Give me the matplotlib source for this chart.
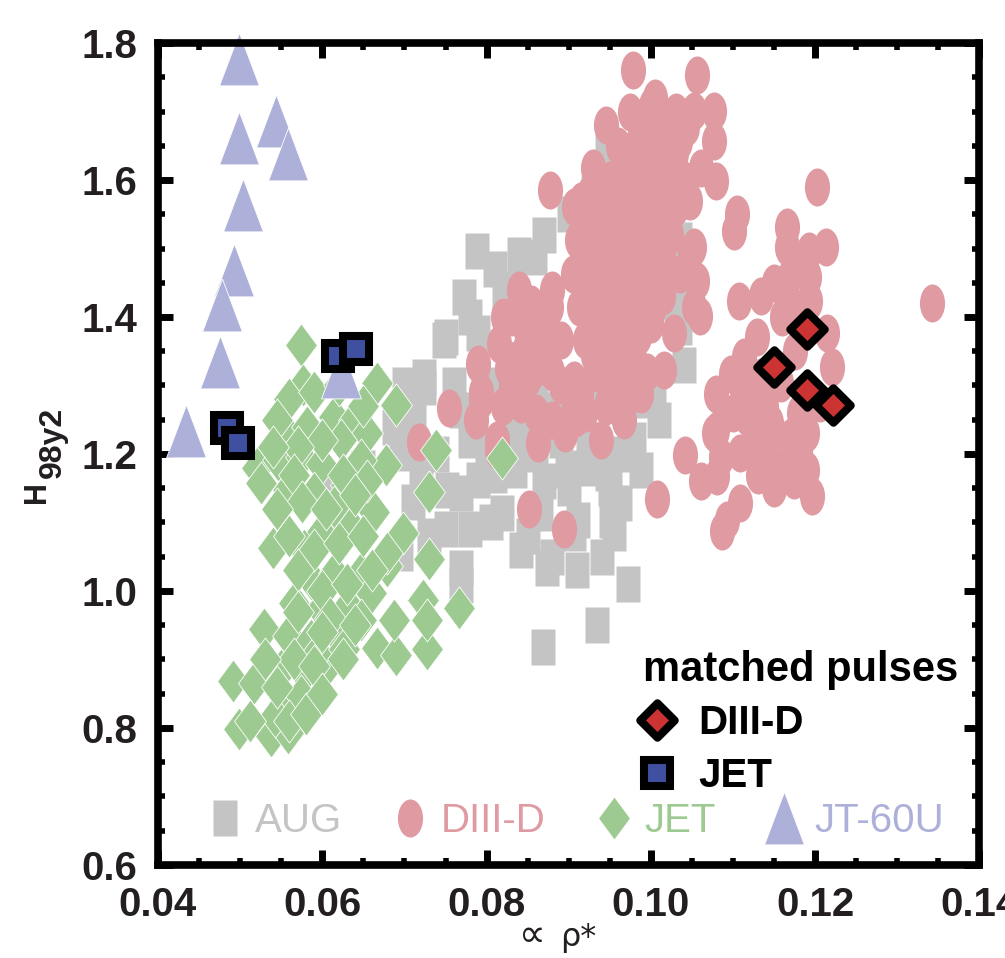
import numpy as np
import matplotlib
matplotlib.use("Agg")
import matplotlib.pyplot as plt
from matplotlib.path import Path
from matplotlib.transforms import Affine2D
from matplotlib.ticker import FixedLocator, FixedFormatter, MultipleLocator

plt.rcParams['font.family'] = ['Liberation Sans', 'DejaVu Sans']

# ---------------- data ----------------
aug_x = [0.0788, 0.0859, 0.0773, 0.0829, 0.0750, 0.0789, 0.0724, 0.0947, 0.0988, 0.0951,
         0.0911, 0.0842, 0.0873, 0.0972, 0.0935, 0.0869, 0.0769, 0.0819, 0.0752, 0.0789,
         0.0866, 0.0898, 0.0963, 0.0882, 0.1004, 0.1036, 0.0712, 0.0696, 0.0696, 0.0769,
         0.0829, 0.0834, 0.0923, 0.0748, 0.0724, 0.0769, 0.0687, 0.0614, 0.1036, 0.0821,
         0.0988, 0.0947, 0.0805, 0.0907, 0.0955, 0.0769, 0.0740, 0.0800, 0.0860, 0.0900,
         0.0800, 0.0860, 0.0940, 0.0990, 0.0930, 0.0730, 0.0650, 0.0700, 0.0710,
         0.0760, 0.0780, 0.0810, 0.0840, 0.0870, 0.0890, 0.0920, 0.0950, 0.0980, 0.0960,
         0.0850, 0.0880, 0.0910, 0.0940, 0.0780, 0.0750, 0.0720, 0.0780, 0.0810, 0.0840,
         0.0870, 0.0900, 0.0930, 0.0960, 0.0990, 0.1010, 0.1030, 0.1040, 0.1010, 0.1036]
aug_y = [1.497, 1.487, 1.429, 1.439, 1.371, 1.376, 1.313, 1.643, 1.177, 1.104,
         1.104, 1.060, 1.034, 1.010, 0.950, 0.918, 1.034, 1.114, 1.148, 1.162,
         1.114, 1.177, 1.129, 1.264, 1.293, 1.385, 1.250, 1.201, 1.055, 1.264,
         1.259, 1.177, 1.220, 1.366, 1.298, 1.143, 1.240, 1.152, 1.512, 1.434,
         1.279, 1.172, 1.100, 1.085, 1.085, 1.009, 1.200, 1.210, 1.200, 1.150,
         1.300, 1.310, 1.400, 1.450, 1.300, 1.080, 1.180, 1.300, 1.130,
         1.300, 1.220, 1.170, 1.220, 1.160, 1.220, 1.180, 1.150, 1.220, 1.200,
         1.080, 1.050, 1.030, 1.050, 1.090, 1.090, 1.180, 1.400, 1.470, 1.490,
         1.520, 1.550, 1.580, 1.620, 1.610, 1.470, 1.420, 1.330, 1.250, 1.440]

d3d_x = [0.0978, 0.1056, 0.1000, 0.1022, 0.1052, 0.1077, 0.1077, 0.1079, 0.0877, 0.0929,
         0.0969, 0.0996, 0.1036, 0.1032, 0.1048, 0.1105, 0.1101, 0.1166, 0.1052, 0.1036,
         0.1056, 0.1060, 0.1107, 0.1134, 0.1028, 0.1016, 0.0915, 0.0911, 0.0907, 0.0854,
         0.0878, 0.0848, 0.0825, 0.0793, 0.0842, 0.0858, 0.0890, 0.0915, 0.0909, 0.0939,
         0.0967, 0.0988, 0.0862, 0.0813, 0.0852, 0.0894, 0.1007, 0.1042, 0.1061, 0.1081,
         0.1109, 0.1087, 0.1079, 0.1097, 0.1129, 0.1109, 0.1077, 0.1012, 0.1044, 0.1020,
         0.1061, 0.0718, 0.0754, 0.0789, 0.0793, 0.0787, 0.0813, 0.0827, 0.0843, 0.0906,
         0.0906, 0.0963, 0.1048, 0.1052, 0.1202, 0.1342, 0.1166, 0.1192, 0.1213, 0.1170,
         0.1192, 0.1170, 0.1194, 0.1214, 0.1220, 0.1206, 0.1113, 0.1109, 0.1134, 0.1158,
         0.1117, 0.1146, 0.1170, 0.1081, 0.1142, 0.1182, 0.1190, 0.1174, 0.1196, 0.1085,
         0.1093,
         0.0906, 0.0931, 0.0955, 0.0979, 0.1004, 0.0910, 0.0935, 0.0955, 0.0980, 0.1000,
         0.0905, 0.0930, 0.0955, 0.0978, 0.1005, 0.0912, 0.0935, 0.0958, 0.0982, 0.1003,
         0.0920, 0.0940, 0.0960, 0.0985, 0.0935, 0.0955, 0.0975, 0.0970, 0.0995, 0.1010,
         0.1030, 0.1025, 0.1020, 0.1015, 0.0960, 0.0990, 0.1005, 0.1030,
         0.0830, 0.0860, 0.0845, 0.0870, 0.0890, 0.0830, 0.0880,
         0.0945, 0.0975, 0.1005, 0.1030, 0.0985, 0.1040, 0.0925, 0.0950, 0.0975, 0.1000,
         0.1025, 0.0920, 0.0945, 0.0970, 0.0995, 0.1015, 0.0920, 0.0945, 0.0968, 0.0992,
         0.1015, 0.0920, 0.0945, 0.0970, 0.0995, 0.1010, 0.0925, 0.0950, 0.0975, 0.1000,
         0.0930, 0.0955, 0.0980, 0.0950, 0.0970, 0.0995,
         0.0820, 0.0840, 0.0880, 0.0870, 0.0815, 0.0850, 0.0880, 0.0820, 0.0860, 0.0895,
         0.0920, 0.0945,
         0.1120, 0.1140, 0.1150, 0.1125, 0.1160, 0.1130, 0.1150, 0.1100, 0.1190, 0.1180,
         0.1175, 0.1160, 0.1150, 0.1180]
d3d_y = [1.760, 1.754, 1.708, 1.691, 1.701, 1.701, 1.657, 1.599, 1.586, 1.618,
         1.628, 1.643, 1.657, 1.609, 1.570, 1.551, 1.526, 1.531, 1.502, 1.463,
         1.453, 1.402, 1.424, 1.431, 1.376, 1.322, 1.570, 1.512, 1.463, 1.419,
         1.414, 1.380, 1.325, 1.279, 1.273, 1.322, 1.366, 1.288, 1.252, 1.220,
         1.250, 1.288, 1.216, 1.206, 1.120, 1.090, 1.135, 1.198, 1.160, 1.168,
         1.129, 1.087, 1.288, 1.317, 1.371, 1.201, 1.230, 1.667, 1.677, 1.618,
         1.618, 1.218, 1.267, 1.332, 1.291, 1.250, 1.220, 1.337, 1.286, 1.308,
         1.269, 1.264, 1.492, 1.415, 1.590, 1.420, 1.502, 1.497, 1.502, 1.463,
         1.458, 1.419, 1.424, 1.376, 1.327, 1.274, 1.342, 1.303, 1.313, 1.303,
         1.254, 1.245, 1.225, 1.235, 1.206, 1.206, 1.177, 1.162, 1.138, 1.196,
         1.104,
         1.560, 1.560, 1.565, 1.555, 1.560, 1.512, 1.510, 1.515, 1.505, 1.515,
         1.463, 1.465, 1.460, 1.470, 1.465, 1.415, 1.420, 1.412, 1.420, 1.410,
         1.366, 1.370, 1.360, 1.372, 1.318, 1.325, 1.315, 1.600, 1.610, 1.590,
         1.560, 1.520, 1.470, 1.430, 1.650, 1.680, 1.640, 1.640,
         1.400, 1.390, 1.350, 1.340, 1.300, 1.300, 1.250,
         1.680, 1.700, 1.720, 1.700, 1.660, 1.600, 1.580, 1.600, 1.580, 1.580,
         1.580, 1.540, 1.535, 1.540, 1.535, 1.545, 1.490, 1.490, 1.490, 1.485,
         1.490, 1.440, 1.440, 1.440, 1.440, 1.450, 1.390, 1.390, 1.395, 1.390,
         1.345, 1.345, 1.340, 1.300, 1.280, 1.320,
         1.400, 1.440, 1.440, 1.380, 1.360, 1.310, 1.320, 1.270, 1.260, 1.230,
         1.260, 1.270,
         1.280, 1.270, 1.230, 1.220, 1.180, 1.170, 1.150, 1.260, 1.230, 1.260,
         1.350, 1.400, 1.450, 1.400]

jet_x = [0.0574, 0.0576, 0.0667, 0.0690, 0.0521, 0.0525, 0.0540, 0.0677, 0.0738, 0.0730,
         0.0698, 0.0663, 0.0629, 0.0730, 0.0722, 0.0767, 0.0667, 0.0690, 0.0728, 0.0529,
         0.0491, 0.0517, 0.0499, 0.0537, 0.0558,
         0.0586, 0.0614, 0.0647, 0.0679, 0.0566, 0.0598, 0.0631, 0.0659, 0.0558, 0.0586,
         0.0619, 0.0647, 0.0550, 0.0578, 0.0606, 0.0554, 0.0574, 0.0542, 0.0594, 0.0627,
         0.0554, 0.0582, 0.0614, 0.0639, 0.0655, 0.0546, 0.0574, 0.0598, 0.0623, 0.0647,
         0.0558, 0.0590, 0.0614, 0.0635, 0.0598, 0.0578,
         0.0819, 0.0679, 0.0687, 0.0728,
         0.0560, 0.0590, 0.0620, 0.0650, 0.0545, 0.0600, 0.0570, 0.0625, 0.0655, 0.0540,
         0.0565, 0.0575, 0.0605, 0.0640, 0.0545, 0.0560, 0.0590, 0.0620, 0.0650, 0.0570,
         0.0600, 0.0630, 0.0660, 0.0570, 0.0610, 0.0640, 0.0600, 0.0565, 0.0590, 0.0625,
         0.0545, 0.0560, 0.0580, 0.0600, 0.0530, 0.0512]
jet_y = [1.359, 1.300, 1.303, 1.271, 1.179, 1.158, 1.063, 1.184, 1.206, 1.145,
         1.085, 1.116, 1.155, 1.046, 0.987, 0.975, 0.917, 0.907, 0.915, 0.944,
         0.868, 0.866, 0.798, 0.788, 0.793,
         1.017, 1.026, 1.026, 1.036, 0.983, 0.973, 0.978, 0.997, 0.934, 0.929,
         0.934, 0.958, 0.885, 0.881, 0.890, 0.837, 0.847, 0.817, 0.910, 0.915,
         1.235, 1.240, 1.254, 1.250, 1.230, 1.191, 1.196, 1.186, 1.220, 1.191,
         1.148, 1.143, 1.123, 1.094, 1.085, 1.060,
         1.194, 1.055, 0.958, 0.958,
         1.280, 1.290, 1.300, 1.270, 1.250, 1.220, 1.210, 1.170, 1.160, 1.210,
         1.170, 1.130, 1.120, 1.140, 1.120, 1.080, 1.060, 1.070, 1.080, 1.030,
         1.000, 1.010, 1.030, 0.970, 0.960, 0.950, 0.940, 0.900, 0.890, 0.900,
         0.860, 0.810, 0.820, 0.850, 0.900, 0.810]

jt_x = [0.0499, 0.0499, 0.0544, 0.0558, 0.0503, 0.0492, 0.0478, 0.0475, 0.0434, 0.0623]
jt_y = [1.777, 1.661, 1.686, 1.638, 1.564, 1.468, 1.417, 1.334, 1.233, 1.319]

match_d3d_x = [0.1190, 0.1150, 0.1190, 0.1222]
match_d3d_y = [1.382, 1.327, 1.294, 1.272]
match_jet_x = [0.0484, 0.0498, 0.0619, 0.0641]
match_jet_y = [1.238, 1.216, 1.343, 1.353]

labels = ['AUG', 'DIII-D', 'JET', 'JT-60U']
match_labels = ['DIII-D', 'JET']
xticks = [0.04, 0.06, 0.08, 0.10, 0.12, 0.14]
xticklabels = ['0.04', '0.06', '0.08', '0.10', '0.12', '0.14']
yticks = [0.6, 0.8, 1.0, 1.2, 1.4, 1.6, 1.8]
yticklabels = ['0.6', '0.8', '1.0', '1.2', '1.4', '1.6', '1.8']

# ---------------- styles ----------------
c_aug = '#c4c4c4'
c_d3d = '#df9aa2'
c_jet = '#9dca91'
c_jt = '#adb0d8'
c_red = '#cc3333'
c_blue = '#4050a0'
c_txt = '#231f20'

ellipse = Path.unit_circle().transformed(Affine2D().scale(0.66, 1.0))
rect = Path([(-0.67, -1), (0.67, -1), (0.67, 1), (-0.67, 1), (-0.67, -1)],
            [Path.MOVETO, Path.LINETO, Path.LINETO, Path.LINETO, Path.CLOSEPOLY])
diam = Path([(0, 1), (0.74, 0), (0, -1), (-0.74, 0), (0, 1)],
            [Path.MOVETO, Path.LINETO, Path.LINETO, Path.LINETO, Path.CLOSEPOLY])
tri = Path([(0, 1), (0.755, -1), (-0.755, -1), (0, 1)],
           [Path.MOVETO, Path.LINETO, Path.LINETO, Path.CLOSEPOLY])
sqdiam = Path([(0, 1), (1, 0), (0, -1), (-1, 0), (0, 1)],
              [Path.MOVETO, Path.LINETO, Path.LINETO, Path.LINETO, Path.CLOSEPOLY])

fig = plt.figure(figsize=(10.05, 9.58), dpi=100)
ax = fig.add_axes([0.1572, 0.0971, 0.9746 - 0.1572, 0.9551 - 0.0971])

l_aug, = ax.plot(aug_x, aug_y, ls='none', marker=rect, ms=26, mfc=c_aug, mec='none',
                 clip_on=False, zorder=2)
l_d3d, = ax.plot(d3d_x, d3d_y, ls='none', marker=ellipse, ms=27.4, mfc=c_d3d, mec='none',
                 clip_on=False, zorder=3)
l_jet, = ax.plot(jet_x, jet_y, ls='none', marker=diam, ms=31, mfc=c_jet, mec='white',
                 mew=0.6, clip_on=False, zorder=4)
l_jt, = ax.plot(jt_x, jt_y, ls='none', marker=tri, ms=38, mfc=c_jt, mec='white',
                mew=0.6, clip_on=False, zorder=5)
m_d3d, = ax.plot(match_d3d_x, match_d3d_y, ls='none', marker=sqdiam, ms=24.8, mfc=c_red,
                 mec='black', mew=5.8, clip_on=False, zorder=6)
m_jet, = ax.plot(match_jet_x, match_jet_y, ls='none', marker='s', ms=18.7, mfc=c_blue,
                 mec='black', mew=5.8, clip_on=False, zorder=6)

ax.set_xlim(0.04, 0.14)
ax.set_ylim(0.6, 1.8)
ax.xaxis.set_major_locator(FixedLocator(xticks))
ax.xaxis.set_major_formatter(FixedFormatter(xticklabels))
ax.yaxis.set_major_locator(FixedLocator(yticks))
ax.yaxis.set_major_formatter(FixedFormatter(yticklabels))
ax.xaxis.set_minor_locator(MultipleLocator(0.005))
ax.yaxis.set_minor_locator(MultipleLocator(0.05))
ax.tick_params(which='both', direction='in', top=True, right=True, colors='black')
ax.tick_params(which='major', length=11, width=5, pad=15, labelsize=29,
               labelcolor=c_txt)
ax.tick_params(which='minor', length=5, width=4)
for lab in ax.get_xticklabels() + ax.get_yticklabels():
    lab.set_fontweight('bold')
for sp in ax.spines.values():
    sp.set_linewidth(5.5)
    sp.set_zorder(10)

# axis labels
fig.text(532 / 1005, 1 - 946 / 958, '\u221d', fontsize=27, ha='center',
         va='baseline', color=c_txt, family=['DejaVu Sans'])
fig.text(578 / 1005, 1 - 946 / 958, '\u03c1*', fontsize=23, ha='center',
         va='baseline', color=c_txt, family=['DejaVu Sans'])
fig.text(45 / 1005, 1 - 503 / 958, 'H', fontsize=22, fontweight='bold', rotation=90,
         rotation_mode='anchor', ha='left', va='baseline', color=c_txt)
fig.text(61 / 1005, 1 - 478 / 958, '98y2', fontsize=23, fontweight='bold', rotation=90,
         rotation_mode='anchor', ha='left', va='baseline', color=c_txt)

# legends
leg1 = ax.legend([l_aug, l_d3d, l_jet, l_jt], labels, ncol=4, loc='center left',
                 bbox_to_anchor=(0.0614, 0.053), borderaxespad=0, borderpad=0,
                 frameon=False, prop={'size': 29}, handlelength=0.8,
                 handletextpad=0.35, columnspacing=1.3,
                 labelcolor=[c_aug, c_d3d, c_jet, c_jt])
ax.add_artist(leg1)
leg2 = ax.legend([m_d3d, m_jet], match_labels, loc='upper left',
                 bbox_to_anchor=(0.590, 0.262), borderaxespad=0, borderpad=0,
                 frameon=False, prop={'size': 29, 'weight': 'bold'},
                 handlelength=0.7, handletextpad=0.68, labelspacing=0.36,
                 title='matched pulses',
                 title_fontproperties={'size': 30, 'weight': 'bold'},
                 alignment='left', labelcolor='black')

fig.savefig('out.png', dpi=100)
